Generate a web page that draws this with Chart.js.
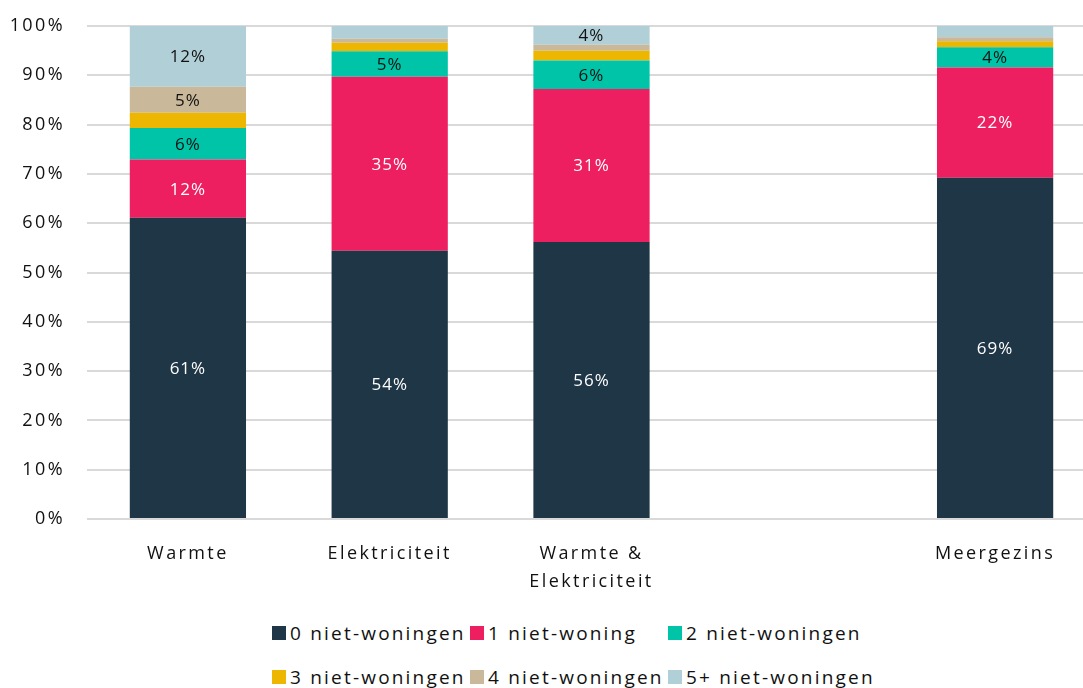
<!DOCTYPE html>
<html>
<head>
<meta charset="utf-8">
<script src="https://cdn.jsdelivr.net/npm/chart.js@4.4.0/dist/chart.umd.min.js"></script>
<style>
    html, body { margin: 0; padding: 0; background: #fff; overflow: hidden; }
    #wrap { width: 1083px; height: 610px; position: relative; overflow: hidden; }
    #inner { width: 1096px; height: 610px; }
    #legend {
        position: absolute; left: 272px; top: 622px;
        display: grid; grid-template-columns: 198px 198px 220px; row-gap: 22px;
        font-family: "Open Sans", sans-serif; font-size: 19px; letter-spacing: 2.2px; color: #111;
    }
    #legend div { display: flex; align-items: center; white-space: nowrap; height: 22px; }
    #legend span.box { width: 14px; height: 14px; margin-right: 4px; display: inline-block; }
</style>
</head>
<body>
<div id="wrap"><div id="inner"><canvas id="chart"></canvas></div></div>
<div id="legend"></div>
<script>
// categorieën (lege plek tussen W&E en Meergezins)
const categories = ['Warmte', 'Elektriciteit', ['Warmte &', 'Elektriciteit'], '', 'Meergezins'];
const seriesNames = ['0 niet-woningen', '1 niet-woning', '2 niet-woningen', '3 niet-woningen', '4 niet-woningen', '5+ niet-woningen'];
const colors = ['#1f3646', '#ee1f60', '#00c4a7', '#edb600', '#c9b899', '#b0cfd6'];
const labelColors = ['#fff', '#fff', '#111', '#111', '#111', '#111'];

// percentages per reeks
const nul = [61.1, 54.4, 56.2, null, 69.2];
const een = [11.8, 35.3, 31.0, null, 22.4];
const twee = [6.4, 5.2, 5.8, null, 4.1];
const drie = [3.1, 1.7, 2.0, null, 1.2];
const vier = [5.3, 0.8, 1.2, null, 0.8];
const vijfPlus = [12.3, 2.6, 3.8, null, 2.3];
const series = [nul, een, twee, drie, vier, vijfPlus];
const yTicks = [0, 10, 20, 30, 40, 50, 60, 70, 80, 90, 100];

const fontFamily = '"Open Sans", sans-serif';

// letterspatiëring zoals in het origineel
const spacingPlugin = {
    id: 'spacing',
    beforeUpdate: (chart) => { chart.ctx.letterSpacing = '2.4px'; },
    beforeDraw: (chart) => { chart.ctx.letterSpacing = '2.4px'; }
};

// waardelabels in het midden van elk segment (vanaf 4%)
const barLabels = {
    id: 'barLabels',
    afterDatasetsDraw: (chart) => {
        const ctx = chart.ctx;
        ctx.save();
        ctx.letterSpacing = '1px';
        ctx.font = '17px ' + fontFamily;
        ctx.textAlign = 'center';
        ctx.textBaseline = 'middle';
        chart.data.datasets.forEach((ds, i) => {
            const meta = chart.getDatasetMeta(i);
            meta.data.forEach((bar, j) => {
                const v = ds.data[j];
                if (v == null || Math.round(v) < 4) return;
                const p = bar.getProps(['x', 'y', 'base'], true);
                ctx.fillStyle = labelColors[i];
                ctx.fillText(Math.round(v) + '%', p.x, (p.y + p.base) / 2 + 1);
            });
        });
        ctx.restore();
    }
};

const ctx = document.getElementById('chart').getContext('2d');
new Chart(ctx, {
    type: 'bar',
    data: {
        labels: categories,
        datasets: series.map((d, i) => ({
            label: seriesNames[i],
            data: d,
            backgroundColor: colors[i],
            borderWidth: 0,
            categoryPercentage: 1,
            barPercentage: 0.576
        }))
    },
    options: {
        responsive: true,
        maintainAspectRatio: false,
        animation: false,
        layout: { padding: { top: 26, right: 0, left: 0, bottom: 0 } },
        plugins: {
            legend: { display: false },
            tooltip: { enabled: false }
        },
        scales: {
            x: {
                stacked: true,
                afterFit: (axis) => { axis.height = 91; },
                grid: { display: false },
                border: { display: false },
                ticks: { color: '#111', font: { family: fontFamily, size: 18, lineHeight: 1.6 }, padding: 12, maxRotation: 0, autoSkip: false }
            },
            y: {
                stacked: true,
                min: 0, max: 100,
                afterBuildTicks: (axis) => { axis.ticks = yTicks.map(v => ({ value: v })); },
                afterFit: (axis) => { axis.width = 87; axis.paddingTop = 0; axis.paddingBottom = 0; },
                grid: { color: '#d9d9d9', lineWidth: 2, drawTicks: false },
                border: { display: false },
                ticks: { color: '#111', font: { family: fontFamily, size: 18 }, padding: 22, callback: v => v + '%' }
            }
        }
    },
    plugins: [spacingPlugin, barLabels]
});

// legenda in twee rijen
const legend = document.getElementById('legend');
seriesNames.forEach((name, i) => {
    const item = document.createElement('div');
    item.innerHTML = '<span class="box" style="background:' + colors[i] + '"></span>' + name;
    legend.appendChild(item);
});
</script>
</body>
</html>
